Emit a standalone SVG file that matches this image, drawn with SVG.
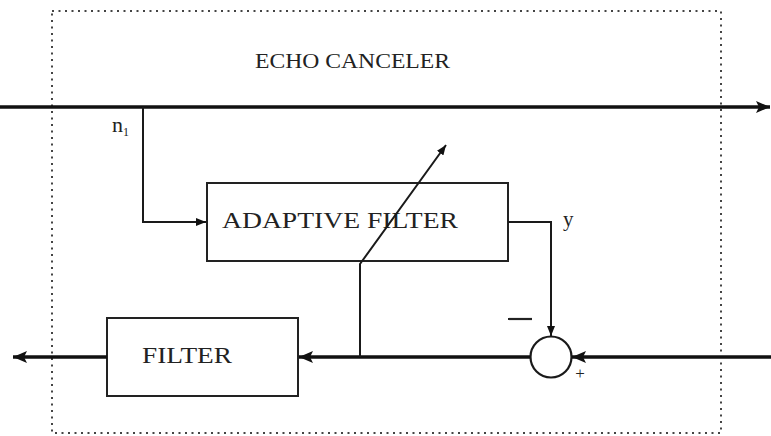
<svg xmlns="http://www.w3.org/2000/svg" width="771" height="436" viewBox="0 0 771 436">
<style>
.box{fill:none;stroke:#222;stroke-width:2}
.thin{fill:none;stroke:#1a1a1a;stroke-width:2}
.thick{fill:none;stroke:#111;stroke-width:3.5}
.dot{fill:none;stroke:#444;stroke-width:2;stroke-dasharray:2 4.5}
.lbl{font-family:"Liberation Serif","Times New Roman",serif;fill:#222}
</style>
<defs>
<marker id="big" viewBox="0 0 14 12" refX="14" refY="6" markerWidth="14" markerHeight="12" markerUnits="userSpaceOnUse" orient="auto">
<path d="M0,0 L14,6 L0,12 L3,6 Z" fill="#111"/>
</marker>
<marker id="small" viewBox="0 0 10 8" refX="10" refY="4" markerWidth="10" markerHeight="8" markerUnits="userSpaceOnUse" orient="auto">
<path d="M0,0 L10,4 L0,8 Z" fill="#111"/>
</marker>
</defs>
<rect width="771" height="436" fill="#fff"/>
<g id="echo-canceler">
<rect class="dot" x="52" y="11" width="669" height="422"/>
<text class="lbl" x="255" y="68" font-size="22" textLength="195" lengthAdjust="spacingAndGlyphs">ECHO CANCELER</text>
</g>
<g id="adaptive-filter">
<rect class="box" x="207" y="183" width="301" height="78"/>
<text class="lbl" x="222" y="228" font-size="23" textLength="236" lengthAdjust="spacingAndGlyphs">ADAPTIVE FILTER</text>
</g>
<g id="filter">
<rect class="box" x="107" y="318" width="191" height="78"/>
<text class="lbl" x="142" y="363" font-size="23" textLength="90" lengthAdjust="spacingAndGlyphs">FILTER</text>
</g>
<g id="summer">
<circle cx="551" cy="357" r="20.5" fill="none" stroke="#1a1a1a" stroke-width="2.2"/>
<line x1="508" y1="319" x2="532" y2="319" stroke="#222" stroke-width="2.2"/>
<text class="lbl" x="580" y="379" font-size="17" text-anchor="middle">+</text>
</g>
<g id="connectors">
<line class="thick" x1="0" y1="107" x2="770" y2="107" marker-end="url(#big)"/>
<polyline class="thin" points="143,107 143,222 206,222" marker-end="url(#small)"/>
<polyline class="thin" points="508,222 551,222 551,336" marker-end="url(#small)"/>
<line class="thick" x1="771" y1="357" x2="572" y2="357" marker-end="url(#big)"/>
<line class="thick" x1="530" y1="357" x2="299" y2="357" marker-end="url(#big)"/>
<line class="thick" x1="107" y1="357" x2="13" y2="357" marker-end="url(#big)"/>
<polyline class="thin" points="360,357 360,264 446,145" marker-end="url(#small)"/>
<text class="lbl" x="112" y="132" font-size="22">n<tspan font-size="12" dy="4">1</tspan></text>
<text class="lbl" x="563" y="226" font-size="21">y</text>
</g>
</svg>
